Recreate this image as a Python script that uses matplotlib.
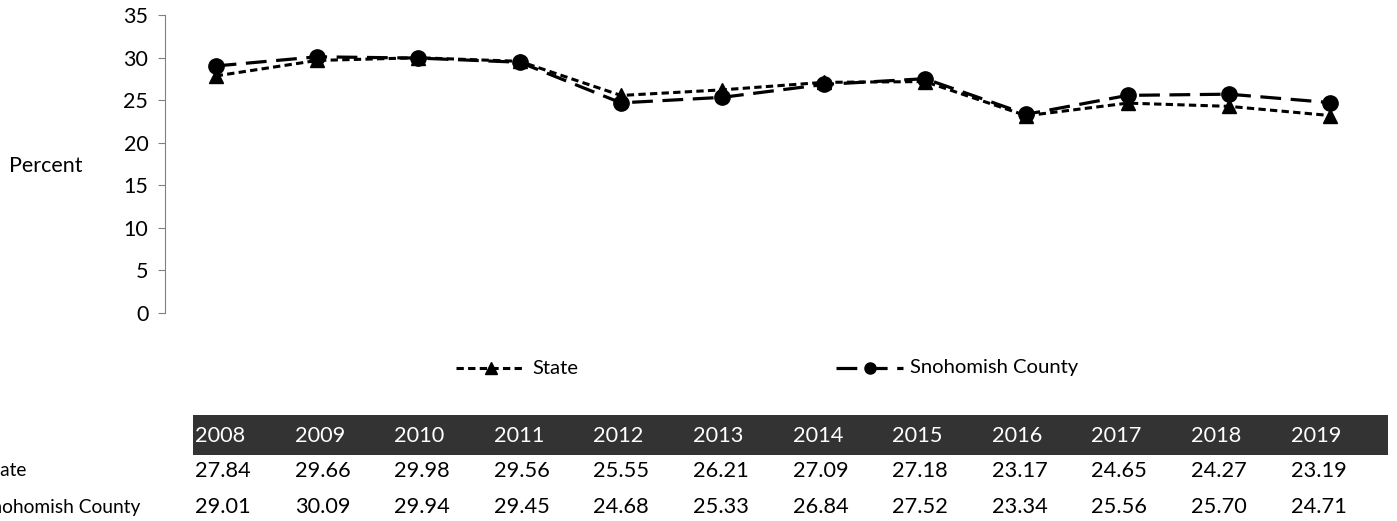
import matplotlib.pyplot as plt
from matplotlib.lines import Line2D
from matplotlib.patches import Rectangle

plt.rcParams['font.family'] = ['Lato', 'DejaVu Sans']

years = ['2008', '2009', '2010', '2011', '2012', '2013', '2014', '2015', '2016', '2017', '2018', '2019']
state = [27.84, 29.66, 29.98, 29.56, 25.55, 26.21, 27.09, 27.18, 23.17, 24.65, 24.27, 23.19]
county = [29.01, 30.09, 29.94, 29.45, 24.68, 25.33, 26.84, 27.52, 23.34, 25.56, 25.70, 24.71]
names = ['State', 'Snohomish County']

W, H = 1397, 521
fig = plt.figure(figsize=(W / 100, H / 100), dpi=100)

state_ls = (0, (2.4, 1.4))
county_ls = (0, (6.5, 3))

# plot area
ax = fig.add_axes([165 / W, 1 - 313 / H, (1381 - 165) / W, (313 - 15) / H])
x = list(range(len(years)))
ax.plot(x, state, color='black', lw=2.2, linestyle=state_ls,
        marker='^', markersize=10.5, label=names[0])
ax.plot(x, county, color='black', lw=2.3, linestyle=county_ls,
        marker='o', markersize=11, label=names[1])
ax.set_xlim(-0.5, len(years) - 0.5)
ax.set_ylim(0, 35)
ax.set_yticks(range(0, 36, 5))
ax.set_xticks([])
for s in ['top', 'right', 'bottom']:
    ax.spines[s].set_visible(False)
ax.spines['left'].set_color('#808080')
ax.tick_params(axis='y', direction='out', length=5, color='#808080', labelsize=15.5, pad=7)
fig.text(46 / W, 1 - 166 / H, 'Percent', fontsize=15.5, ha='center', va='center')

# legend entries
def legend_item(x0, x1, ls, mk, ms, lw, label):
    yy = 1 - 368 / H
    fig.add_artist(Line2D([x0 / W, x1 / W], [yy, yy], color='black', lw=lw, linestyle=ls))
    fig.add_artist(Line2D([(x0 + x1) / 2 / W], [yy], color='black', marker=mk, markersize=ms, linestyle='none'))
    fig.text((x1 + 7) / W, yy, label, fontsize=14.6, va='center', ha='left')

legend_item(456, 525, state_ls, '^', 8, 2.2, names[0])
legend_item(836, 903, county_ls, 'o', 8, 2.3, names[1])

# data table
fig.add_artist(Rectangle((193 / W, 1 - 455 / H), (1388 - 193) / W, 40 / H,
                         transform=fig.transFigure, color='#333333', lw=0))
col_x0 = 195
col_dx = 99.6
for i, yr in enumerate(years):
    cx = (col_x0 + i * col_dx) / W
    fig.text(cx, 1 - 436 / H, yr, color='white', fontsize=15.7, va='center', ha='left')
    fig.text(cx, 1 - 471 / H, f'{state[i]:.2f}', fontsize=15.7, va='center', ha='left')
    fig.text(cx, 1 - 507 / H, f'{county[i]:.2f}', fontsize=15.7, va='center', ha='left')
# row labels run off the left edge, as in the source
fig.text(-17 / W, 1 - 471 / H, names[0], fontsize=13.8, va='center', ha='left')
fig.text(-19 / W, 1 - 507 / H, names[1], fontsize=13.8, va='center', ha='left')

fig.savefig('out.png', dpi=100)
